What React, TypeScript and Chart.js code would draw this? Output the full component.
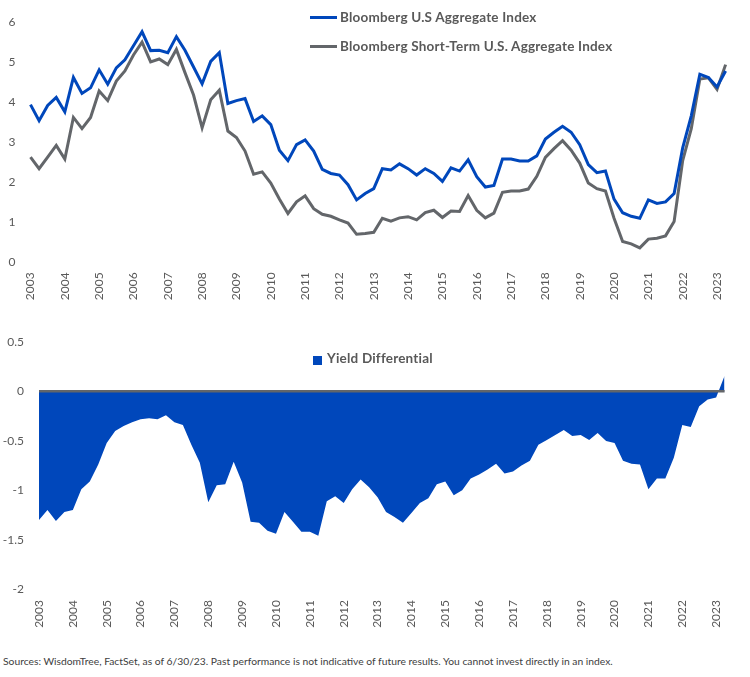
import React, { useEffect, useRef } from "react";
import { Chart, registerables } from "chart.js";

Chart.register(...registerables);

const years = ["2003","2004","2005","2006","2007","2008","2009","2010","2011","2012","2013","2014","2015","2016","2017","2018","2019","2020","2021","2022","2023"];
const quarterLabels = years.flatMap((y) => ["Q1", "Q2", "Q3", "Q4"].map((q) => `${q} ${y}`)).slice(0, 82);

const aggregateYield = [3.94,3.54,3.92,4.12,3.76,4.62,4.22,4.36,4.81,4.45,4.86,5.06,5.41,5.76,5.29,5.30,5.24,5.64,5.30,4.88,4.46,5.02,5.24,3.97,4.04,4.09,3.52,3.66,3.44,2.80,2.54,2.94,3.06,2.78,2.32,2.22,2.18,1.94,1.56,1.72,1.84,2.34,2.31,2.46,2.34,2.18,2.34,2.22,2.02,2.36,2.28,2.56,2.14,1.88,1.92,2.58,2.58,2.53,2.53,2.66,3.08,3.25,3.40,3.25,2.94,2.44,2.24,2.28,1.58,1.24,1.15,1.10,1.56,1.47,1.51,1.72,2.86,3.66,4.70,4.62,4.38,4.78];
const shortTermYield = [2.63,2.34,2.63,2.92,2.58,3.62,3.34,3.62,4.28,4.04,4.53,4.78,5.18,5.50,5.01,5.08,4.94,5.32,4.74,4.18,3.36,4.06,4.30,3.28,3.12,2.78,2.20,2.26,1.98,1.58,1.22,1.51,1.66,1.34,1.20,1.15,1.06,0.98,0.70,0.72,0.75,1.10,1.03,1.11,1.14,1.06,1.24,1.30,1.12,1.28,1.27,1.67,1.30,1.11,1.23,1.75,1.78,1.78,1.83,2.15,2.62,2.84,3.04,2.80,2.48,1.98,1.84,1.78,1.10,0.52,0.46,0.36,0.58,0.60,0.66,1.02,2.54,3.34,4.58,4.61,4.32,4.94];
const yieldDifferential = [-1.30,-1.20,-1.31,-1.22,-1.20,-0.99,-0.91,-0.74,-0.52,-0.40,-0.35,-0.31,-0.28,-0.27,-0.28,-0.24,-0.31,-0.34,-0.54,-0.72,-1.12,-0.95,-0.94,-0.71,-0.92,-1.32,-1.33,-1.41,-1.44,-1.22,-1.32,-1.42,-1.42,-1.46,-1.11,-1.06,-1.13,-0.99,-0.89,-0.97,-1.07,-1.22,-1.27,-1.33,-1.23,-1.13,-1.08,-0.94,-0.91,-1.05,-1.00,-0.88,-0.84,-0.79,-0.73,-0.83,-0.81,-0.75,-0.70,-0.54,-0.49,-0.44,-0.39,-0.45,-0.44,-0.49,-0.42,-0.50,-0.52,-0.70,-0.73,-0.74,-0.99,-0.88,-0.88,-0.67,-0.34,-0.36,-0.15,-0.08,-0.06,0.16];

const BLUE = "#0047BB";
const GRAY = "#63666A";
const TICK = "#595959";
const FONT = 'Lato, "Open Sans", sans-serif';

const xTickCb = (_v: any, idx: number) => (idx % 4 === 0 ? years[idx / 4] : "");
const yTickCb = (v: any) => String(Math.round(Number(v) * 10) / 10);

export default function App() {
  const topRef = useRef<HTMLCanvasElement>(null);
  const botRef = useRef<HTMLCanvasElement>(null);

  useEffect(() => {
    const top = new Chart(topRef.current!, {
      type: "line",
      data: {
        labels: quarterLabels,
        datasets: [
          { label: "Bloomberg U.S Aggregate Index", data: aggregateYield, borderColor: BLUE, borderWidth: 3, pointRadius: 0, tension: 0, fill: false },
          { label: "Bloomberg Short-Term U.S. Aggregate Index", data: shortTermYield, borderColor: GRAY, borderWidth: 3, pointRadius: 0, tension: 0, fill: false },
        ],
      },
      options: {
        animation: false,
        responsive: false,
        layout: { padding: { top: 12.7, right: 19, left: 0, bottom: 0 } },
        plugins: { legend: { display: false }, tooltip: { enabled: false } },
        scales: {
          x: {
            grid: { display: false, drawTicks: false },
            border: { display: false },
            ticks: { autoSkip: false, maxRotation: 90, minRotation: 90, padding: 10, color: TICK, font: { family: FONT, size: 12 }, callback: xTickCb },
            afterFit: (s: any) => { s.height = 305 - 262.3; },
          },
          y: {
            min: 0, max: 6,
            grid: { display: false, drawTicks: false },
            border: { display: false },
            ticks: { stepSize: 1, padding: 15, color: TICK, font: { family: FONT, size: 12 }, callback: yTickCb },
            afterFit: (s: any) => { s.width = 30.5; },
          },
        },
      },
    });

    const bot = new Chart(botRef.current!, {
      type: "line",
      data: {
        labels: quarterLabels,
        datasets: [
          { label: "Yield Differential", data: yieldDifferential, borderWidth: 0, borderColor: BLUE, backgroundColor: BLUE, pointRadius: 0, tension: 0, fill: "origin" },
        ],
      },
      options: {
        animation: false,
        responsive: false,
        layout: { padding: { top: 19.3, right: 12, left: 0, bottom: 0 } },
        plugins: { legend: { display: false }, tooltip: { enabled: false } },
        scales: {
          x: {
            grid: { display: false, drawTicks: false },
            border: { display: false },
            ticks: { autoSkip: false, maxRotation: 90, minRotation: 90, padding: 11, color: TICK, font: { family: FONT, size: 12 }, callback: xTickCb },
            afterFit: (s: any) => { s.height = 320 - 269; },
          },
          y: {
            min: -2, max: 0.5,
            grid: {
              display: true, drawTicks: false, z: 1,
              color: (ctx: any) => (ctx.tick && ctx.tick.value === 0 ? GRAY : "rgba(0,0,0,0)"),
              lineWidth: (ctx: any) => (ctx.tick && ctx.tick.value === 0 ? 2.5 : 0),
            },
            border: { display: false },
            ticks: { stepSize: 0.5, padding: 15, color: TICK, font: { family: FONT, size: 12 }, callback: yTickCb },
            afterFit: (s: any) => { s.width = 39; },
          },
        },
      },
    });

    return () => {
      top.destroy();
      bot.destroy();
    };
  }, []);

  const legendText: React.CSSProperties = {
    position: "absolute",
    fontFamily: FONT,
    fontWeight: 700,
    fontSize: 13.5,
    letterSpacing: "0.2px",
    color: "#595959",
    whiteSpace: "nowrap",
    lineHeight: "16px",
    transform: "translateY(-50%)",
  };

  return (
    <div style={{ position: "absolute", left: 0, top: 0, width: 750, height: 677, background: "#fff", overflow: "hidden" }}>
      <canvas ref={topRef} width={750} height={305} style={{ position: "absolute", left: 0, top: 0, width: 750, height: 305 }} />
      <canvas ref={botRef} width={750} height={320} style={{ position: "absolute", left: 0, top: 320, width: 750, height: 320 }} />

      <div style={{ position: "absolute", left: 310, top: 15.5, width: 27, height: 3, background: BLUE }} />
      <div style={{ ...legendText, left: 340, top: 16.7 }}>Bloomberg U.S Aggregate Index</div>
      <div style={{ position: "absolute", left: 310, top: 44.5, width: 27, height: 3, background: GRAY }} />
      <div style={{ ...legendText, left: 340, top: 45.7 }}>Bloomberg Short-Term U.S. Aggregate Index</div>

      <div style={{ position: "absolute", left: 313, top: 356, width: 9, height: 9, background: BLUE }} />
      <div style={{ ...legendText, left: 327, top: 358.3 }}>Yield Differential</div>

      <div style={{ position: "absolute", left: 3, top: 660.5, transform: "translateY(-50%)", fontFamily: FONT, fontSize: 10.3, color: "#404040", whiteSpace: "nowrap" }}>
        Sources: WisdomTree, FactSet, as of 6/30/23. Past performance is not indicative of future results. You cannot invest directly in an index.
      </div>
    </div>
  );
}
